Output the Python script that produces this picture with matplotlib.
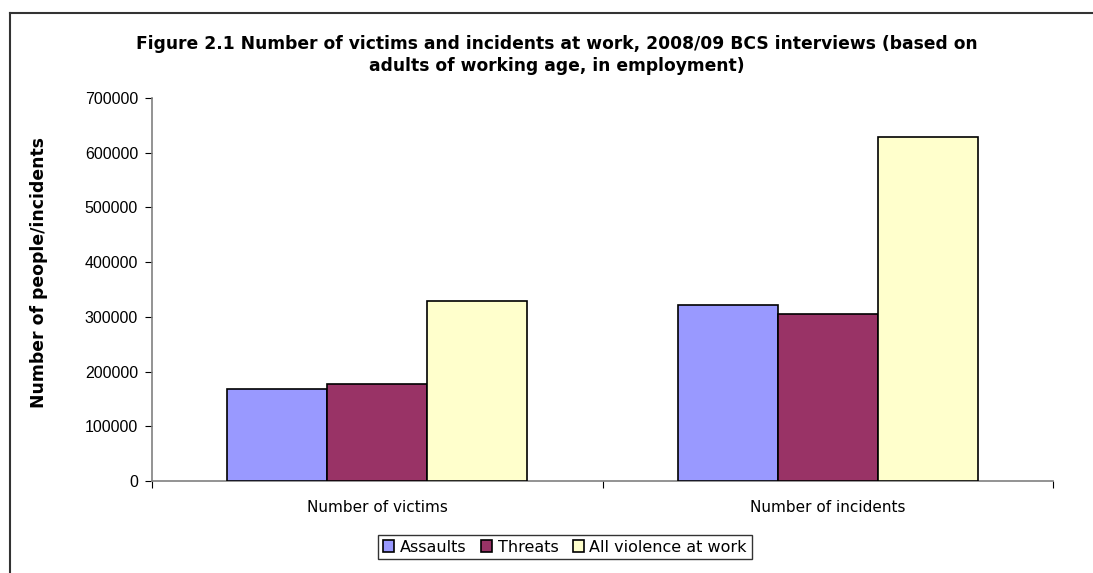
import matplotlib
matplotlib.use("Agg")

import matplotlib.pyplot as plt
import numpy as np
from matplotlib.lines import Line2D

plt.rcParams["font.family"] = ["Liberation Sans", "DejaVu Sans"]

categories = ["Number of victims", "Number of incidents"]
series_names = ["Assaults", "Threats", "All violence at work"]
assaults = [169000, 321000]
threats = [177000, 305000]
all_violence = [329000, 629000]
yticks = [0, 100000, 200000, 300000, 400000, 500000, 600000, 700000]

colors = ["#9999FF", "#993366", "#FFFFCC"]
wide = ["DejaVu Sans"]  # wider glyphs, closer to the spaced-out original text

fig = plt.figure(figsize=(10.93, 5.73), dpi=100)
ax = fig.add_axes([152 / 1093, 92 / 573, 901 / 1093, 383 / 573])

x = np.arange(len(categories))
w = 0.222
for i, (vals, name) in enumerate(zip([assaults, threats, all_violence], series_names)):
    ax.bar(x + (i - 1) * w, vals, width=w, color=colors[i], edgecolor="black",
           linewidth=1.2, label=name, zorder=3)

ax.set_xlim(-0.5, 1.5)
ax.set_ylim(0, 700000)
ax.set_yticks(yticks)
ax.set_yticklabels([str(v) for v in yticks], fontsize=11.5)

ax.set_xticks([-0.5, 0.5, 1.5])
ax.set_xticklabels([])
ax.set_xticks(x, minor=True)
ax.set_xticklabels(categories, minor=True, fontsize=11, family=wide)
ax.tick_params(axis="x", which="minor", length=0, pad=14)
ax.tick_params(axis="x", which="major", direction="out", length=5, color="black")
ax.tick_params(axis="y", direction="out", length=5, color="black", pad=5)

for s in ["top", "right"]:
    ax.spines[s].set_visible(False)
for s in ["left", "bottom"]:
    ax.spines[s].set_color("#808080")
    ax.spines[s].set_linewidth(1.2)

ax.set_ylabel("Number of people/incidents", fontsize=12.4, fontweight="bold", family=wide)
ax.yaxis.set_label_coords(-0.115, 0.545)

fig.text(557 / 1093, 1 - 55 / 573,
         "Figure 2.1 Number of victims and incidents at work, 2008/09 BCS interviews (based on\n"
         "adults of working age, in employment)",
         ha="center", va="center", fontsize=12.3, fontweight="bold", family=wide,
         linespacing=1.3)

leg = fig.legend(loc="center", bbox_to_anchor=(565 / 1093, 1 - 547 / 573), ncol=3,
                 prop={"family": wide, "size": 11.5}, frameon=True, fancybox=False,
                 edgecolor="black", handlelength=0.7, handleheight=0.7,
                 handletextpad=0.35, columnspacing=0.9, borderpad=0.3)
leg.get_frame().set_linewidth(1.0)

# outer chart border (cropped on right and bottom)
fig.add_artist(Line2D([10 / 1093, 10 / 1093], [0, 1 - 13 / 573], color="#333333", lw=1.5))
fig.add_artist(Line2D([10 / 1093, 1], [1 - 13 / 573, 1 - 13 / 573], color="#333333", lw=1.5))

fig.savefig("out.png", dpi=100)
plt.close(fig)
